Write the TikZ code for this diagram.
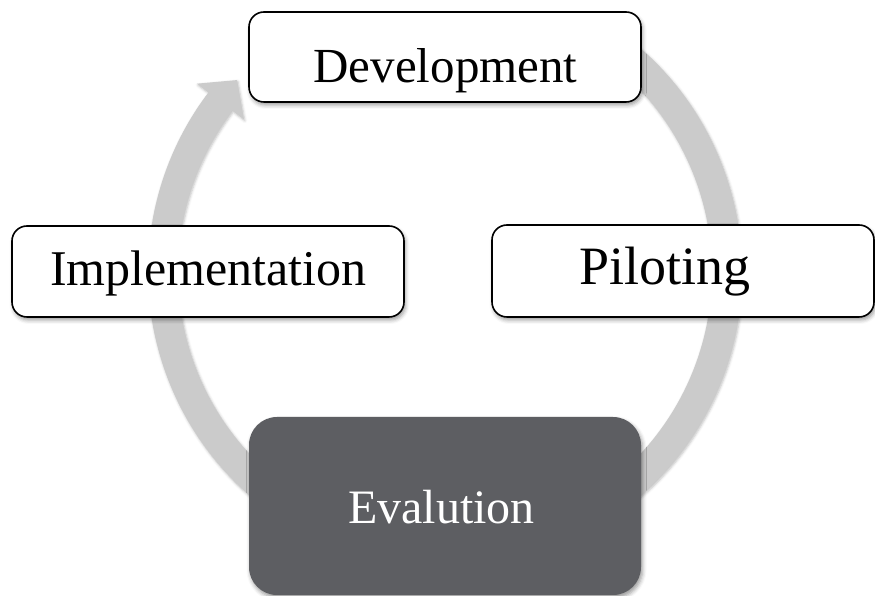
\documentclass[tikz,border=0pt]{standalone}
\usepackage{fontspec}
\setmainfont{Liberation Serif}
\usetikzlibrary{shadows.blur}

\definecolor{cyclegray}{RGB}{203,203,203}
\definecolor{evalfill}{RGB}{93,94,98}

\tikzset{
  softshadow/.style={blur shadow={shadow xshift=1.5pt, shadow yshift=-3pt,
      shadow blur radius=4pt, shadow opacity=40}},
  stagebox/.style={draw=black, line width=1.6pt, fill=white,
      rounded corners=15pt, inner sep=0pt, softshadow},
  activebox/.style={fill=evalfill, rounded corners=28pt, inner sep=0pt, softshadow},
  stagelabel/.style={anchor=base, inner sep=0pt, text=black},
}

\begin{document}
\begin{tikzpicture}[x=1pt, y=1pt]
  \useasboundingbox (0,0) rectangle (875,596);

  % circular arrow running round the four stages
  \begin{scope}[shift={(445,324)}]
    \fill[cyclegray, blur shadow={shadow xshift=1pt, shadow yshift=-1.5pt,
        shadow blur radius=2.5pt, shadow opacity=25}]
      (55:297) arc[start angle=55, end angle=-217.2, radius=297]
      -- (-217.2:311.5) -- (-222.7:283) -- (-217.2:252.5)
      -- (-217.2:267) arc[start angle=-217.2, end angle=55, radius=267]
      -- cycle;
  \end{scope}

  % stage boxes
  \node[stagebox, minimum width=392pt, minimum height=90pt]  (dev)  at (445,539)   {};
  \node[stagebox, minimum width=392pt, minimum height=91pt]  (impl) at (208,324.5) {};
  \node[stagebox, minimum width=382pt, minimum height=92pt]  (pil)  at (683,325)   {};
  \node[activebox, minimum width=392pt, minimum height=178pt] (eval) at (445,90)    {};

  % stage names
  \node[stagelabel, font=\fontsize{49}{58}\selectfont] (devtext)  at (445.5,513.3) {Development};
  \node[stagelabel, font=\fontsize{50}{60}\selectfont] (impltext) at (208.4,310.3) {Implementation};
  \node[stagelabel, font=\fontsize{54}{64}\selectfont] (piltext)  at (665,311)     {Piloting};
  \node[stagelabel, font=\fontsize{48}{58}\selectfont, text=white] (evaltext) at (441.4,72.7) {Evalution};
\end{tikzpicture}
\end{document}
